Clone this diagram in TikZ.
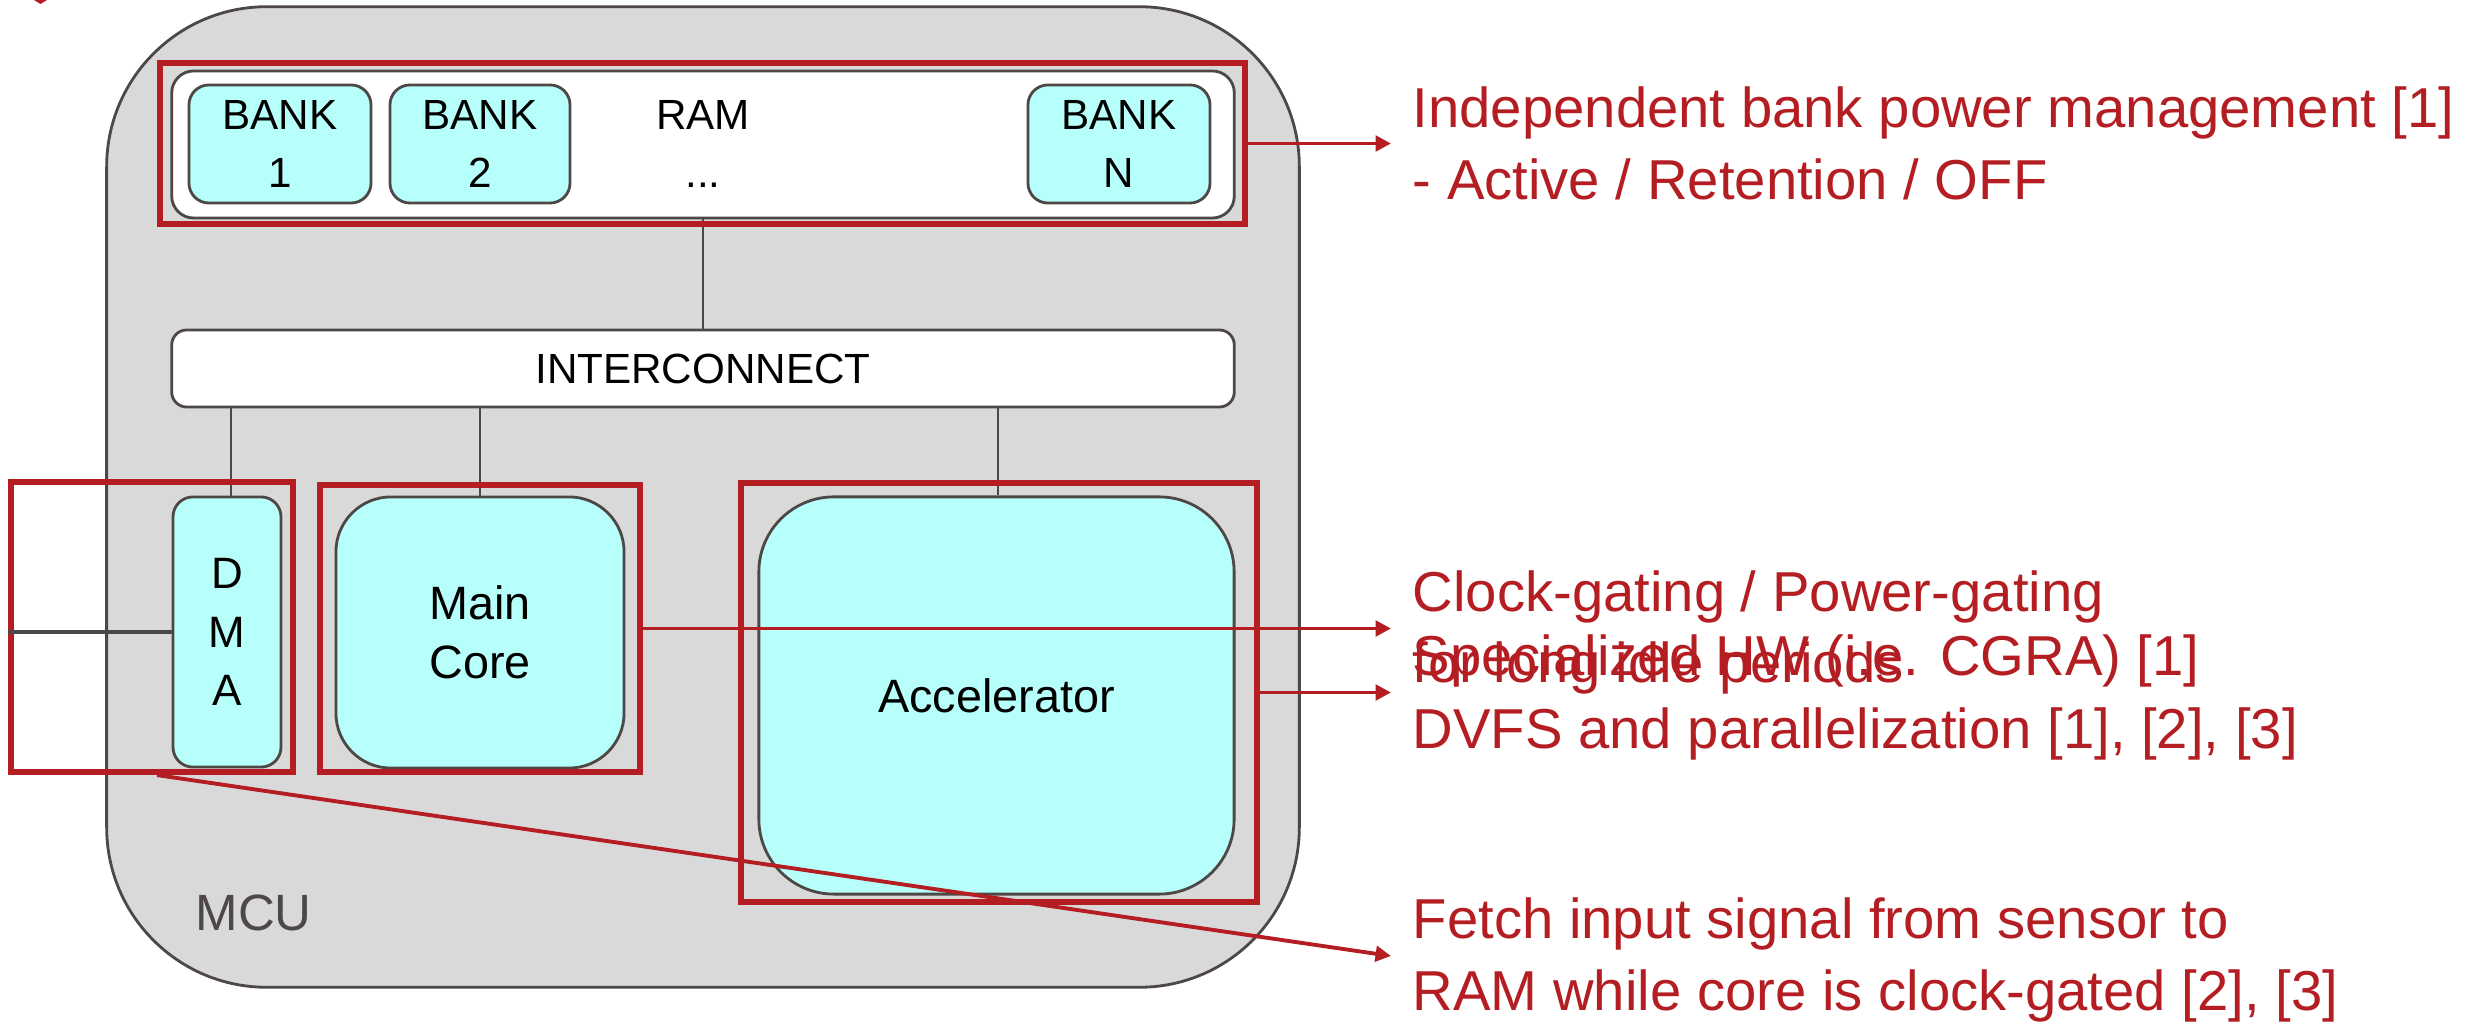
\documentclass[tikz,border=0pt]{standalone}
\usepackage{fontspec}
\setmainfont{Liberation Sans}
\usetikzlibrary{arrows.meta}

\definecolor{notered}{RGB}{180,30,35}
\definecolor{mcufill}{RGB}{217,217,217}
\definecolor{edgegray}{RGB}{77,72,70}
\definecolor{blockfill}{RGB}{183,255,251}

\begin{document}
\begin{tikzpicture}[x=0.01cm, y=-0.01cm,
  chip/.style={draw=edgegray, line width=0.8pt, fill=mcufill, inner sep=0pt},
  block/.style={draw=edgegray, line width=0.8pt, fill=blockfill, inner sep=0pt,
    align=center, font=\fontsize{12}{16.5}\selectfont},
  plain/.style={draw=edgegray, line width=0.8pt, fill=white, inner sep=0pt,
    align=center, font=\fontsize{12}{16.5}\selectfont},
  hilite/.style={draw=notered, line width=1.7pt, inner sep=0pt},
  wire/.style={draw=edgegray, line width=0.7pt},
  note/.style={text=notered, font=\fontsize{16}{20}\selectfont,
    anchor=base west, inner xsep=0.21cm, inner ysep=0pt},
  callout/.style={draw=notered, line width=1.1pt,
    -{Triangle[length=4.4pt, width=4.4pt]}}
]
\useasboundingbox (0,0) rectangle (2474,1022);

% small arrow tip at the upper-left border
\fill[notered] (34,0) -- (47,0) -- (40.5,4) -- cycle;

% MCU outline
\node[chip, rounded corners=1.6cm, minimum width=11.92cm, minimum height=9.80cm]
  (mcu) at (703,497) {};
\node[anchor=base west, inner sep=0pt, text=edgegray,
  font=\fontsize{14.5}{17}\selectfont] (mculbl) at (195,931) {MCU};

% RAM with its banks
\node[plain, rounded corners=0.22cm, minimum width=10.62cm, minimum height=1.47cm]
  (ram) at (703,144.5) {};
\node[block, rounded corners=0.2cm, minimum width=1.82cm, minimum height=1.18cm]
  (bank1) at (280,144) {BANK\\1};
\node[block, rounded corners=0.2cm, minimum width=1.80cm, minimum height=1.18cm]
  (bank2) at (480,144) {BANK\\2};
\node[block, rounded corners=0.2cm, minimum width=1.82cm, minimum height=1.18cm]
  (bankn) at (1119,144) {BANK\\N};
\node[inner sep=0pt, align=center, font=\fontsize{12}{16.5}\selectfont]
  (ramlbl) at (703,144) {RAM\\...};

% interconnect
\node[plain, rounded corners=0.15cm, minimum width=10.62cm, minimum height=0.77cm]
  (inter) at (703,368.5) {INTERCONNECT};

% masters
\node[block, rounded corners=0.2cm, minimum width=1.08cm, minimum height=2.70cm,
  font=\fontsize{12.5}{16.6}\selectfont] (dma) at (227,632) {D\\M\\A};
\node[block, rounded corners=0.55cm, minimum width=2.88cm, minimum height=2.71cm,
  font=\fontsize{13.3}{16.8}\selectfont] (core) at (480,632.5) {Main\\Core};
\node[block, rounded corners=0.75cm, minimum width=4.75cm, minimum height=3.97cm,
  font=\fontsize{13.3}{16.8}\selectfont] (acc) at (996.5,695.5) {Accelerator};

% bus wiring
\draw[wire] (ram.south) -- (inter.north);
\draw[wire] (inter.south -| 231,0) -- (dma.north -| 231,0);
\draw[wire] (inter.south -| core.north) -- (core.north);
\draw[wire] (inter.south -| 998,0) -- (acc.north -| 998,0);

% highlight frames
\node[hilite, minimum width=10.85cm, minimum height=1.61cm] (ramred) at (702.5,143.5) {};
\node[hilite, minimum width=2.81cm, minimum height=2.90cm] (dmared) at (152,627) {};
\node[hilite, minimum width=3.20cm, minimum height=2.87cm] (corered) at (480,628.5) {};
\node[hilite, minimum width=5.16cm, minimum height=4.19cm] (accred) at (999,692.5) {};

% sensor input into the DMA
\draw[draw=edgegray, line width=1.1pt] (dmared.west |- dma.west) -- (dma.west);

% annotations
\node[note] (n1a) at (1391,128) {Independent bank power management [1]};
\node[note] (n1b) at (1391,200) {- Active / Retention / OFF};
\node[note] (n2a) at (1391,612) {Clock-gating / Power-gating};
\node[note] (n2b) at (1391,683) {for long idle periods};
\node[note] (n3a) at (1391,676) {Specialized HW (i.e. CGRA) [1]};
\node[note] (n3b) at (1391,749) {DVFS and parallelization [1], [2], [3]};
\node[note] (n4a) at (1391,939) {Fetch input signal from sensor to};
\node[note] (n4b) at (1391,1011) {RAM while core is clock-gated [2], [3]};

% callout arrows
\draw[callout] (ramred.east) -- (ramred.east -| n1a.west);
\draw[callout] (corered.east) -- (corered.east -| n2a.west);
\draw[callout] (accred.east) -- (accred.east -| n3a.west);
\draw[callout] ([xshift=0.05cm]dmared.south) -- ([yshift=-0.17cm]n4a.base west);
\end{tikzpicture}
\end{document}
